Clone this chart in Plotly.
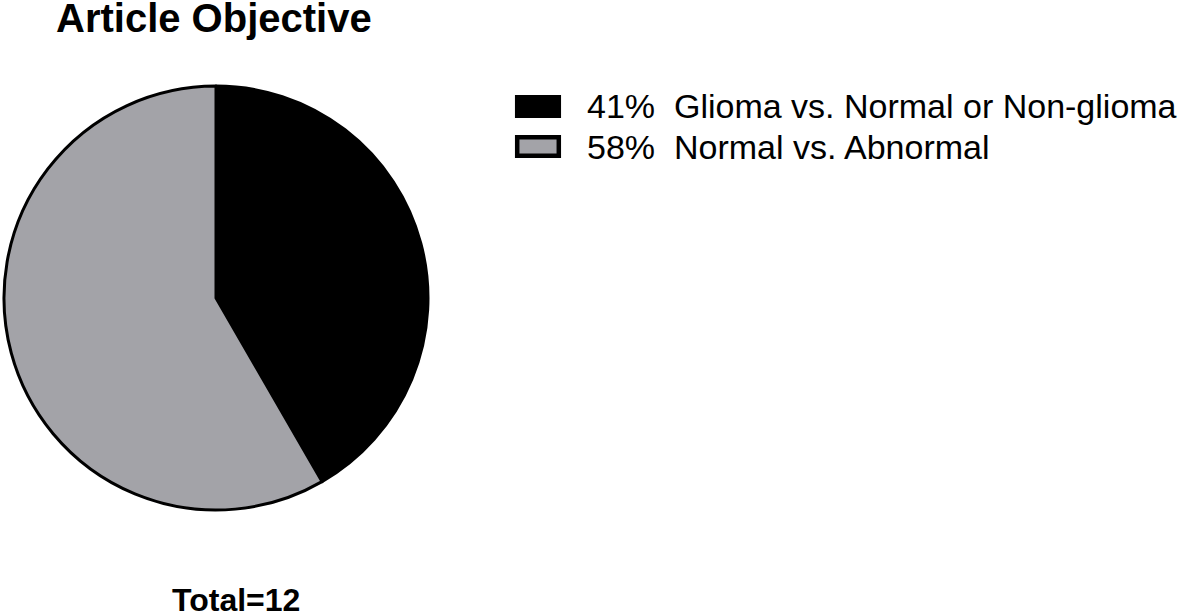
import plotly.graph_objects as go

# Data
categories = ["Glioma vs. Normal or Non-glioma", "Normal vs. Abnormal"]
counts = [5, 7]
colors = ["#000000", "#a3a3a8"]
title_text = "Article Objective"

total = sum(counts)
pct_labels = [f"{int(c * 100 / total)}%" for c in counts]

W, H = 1181, 615

def px(x):
    return x / W

def py(y):
    return 1 - y / H

fig = go.Figure()

cx, cy, r = 216, 298, 212
fig.add_trace(go.Pie(
    values=counts,
    labels=categories,
    marker=dict(colors=colors, line=dict(color="#000000", width=3)),
    sort=False,
    direction="clockwise",
    rotation=0,
    textinfo="none",
    hoverinfo="label+value+percent",
    showlegend=False,
    domain=dict(x=[px(cx - r), px(cx + r)], y=[py(cy + r), py(cy - r)]),
))

FONT = "Liberation Sans, Arial, sans-serif"

# Title
fig.add_annotation(text=f"<b>{title_text}</b>", x=px(54), y=py(18), xref="paper", yref="paper",
                   xanchor="left", yanchor="middle", showarrow=False,
                   font=dict(family=FONT, size=40, color="#000000"))

# Total
fig.add_annotation(text=f"<b>Total={total}</b>", x=px(236), y=py(600), xref="paper", yref="paper",
                   xanchor="center", yanchor="middle", showarrow=False,
                   font=dict(family=FONT, size=32, color="#000000"))

# Legend (manual, large swatches)
row_y = [106.5, 146.5]
for i, (cat, col, pl) in enumerate(zip(categories, colors, pct_labels)):
    yc = row_y[i]
    fig.add_shape(type="rect", xref="paper", yref="paper",
                  x0=px(517.2), x1=px(558.8), y0=py(yc - 9.3), y1=py(yc + 9.3),
                  fillcolor=col, line=dict(color="#000000", width=4.5))
    fig.add_annotation(text=f"{pl}\u00a0\u00a0{cat}", x=px(585), y=py(yc), xref="paper", yref="paper",
                       xanchor="left", yanchor="middle", showarrow=False,
                       font=dict(family=FONT, size=34, color="#000000"))

fig.update_layout(
    width=W, height=H,
    margin=dict(l=0, r=0, t=0, b=0),
    paper_bgcolor="white",
    plot_bgcolor="white",
)

fig.write_html("out.html", config={"displayModeBar": False},
               post_script="document.body.style.margin='0';document.body.style.overflow='hidden';")
